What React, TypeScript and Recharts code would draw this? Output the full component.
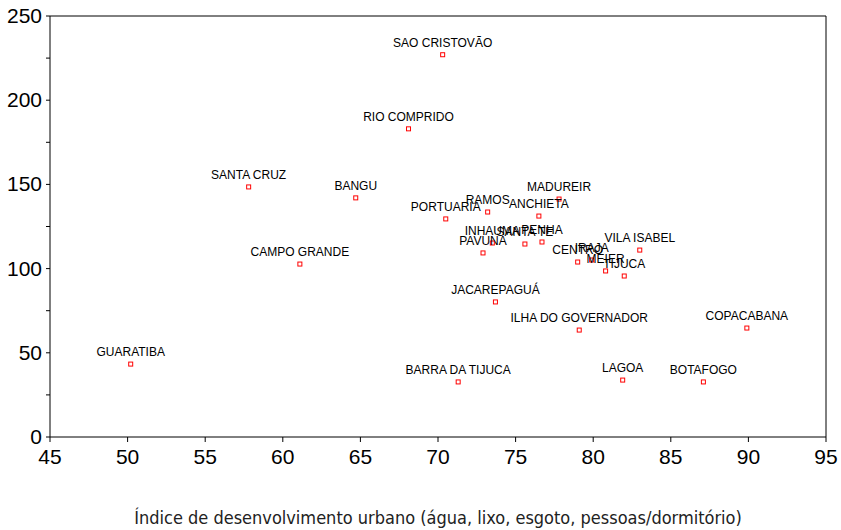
import { ScatterChart, Scatter, XAxis, YAxis, ReferenceLine } from "recharts";

const bairros = [
  "SAO CRISTOVÃO", "RIO COMPRIDO", "SANTA CRUZ", "BANGU", "PORTUARIA", "RAMOS",
  "MADUREIR", "ANCHIETA", "INHAUMA", "PAVUNA", "SANTA TE", "PENHA", "CENTRO",
  "IRAJA", "MEIER", "TIJUCA", "VILA ISABEL", "CAMPO GRANDE", "JACAREPAGUÁ",
  "ILHA DO GOVERNADOR", "COPACABANA", "GUARATIBA", "BARRA DA TIJUCA", "LAGOA",
  "BOTAFOGO",
];
const indice = [
  70.3, 68.1, 57.8, 64.7, 70.5, 73.2, 77.8, 76.5, 73.5, 72.9, 75.6, 76.7, 79.0,
  79.9, 80.8, 82.0, 83.0, 61.1, 73.7, 79.1, 89.9, 50.2, 71.3, 81.9, 87.1,
];
const valores = [
  227, 183, 148.5, 142, 129.5, 133.6, 141.3, 131.2, 115.2, 109.3, 114.6, 115.8,
  103.9, 105.1, 98.6, 95.6, 111, 102.7, 80.2, 63.5, 64.7, 43.3, 32.7, 33.8, 32.7,
];
const xTicks = [45, 50, 55, 60, 65, 70, 75, 80, 85, 90, 95];
const yTicks = [0, 25, 50, 75, 100, 125, 150, 175, 200, 225, 250];

const data = bairros.map((name, i) => ({ name, x: indice[i], y: valores[i] }));

const Ponto = (props: any) => {
  const { cx, cy, payload } = props;
  return (
    <g>
      <rect x={cx - 2} y={cy - 2} width={4} height={4} fill="none" stroke="#ff0000" strokeWidth={1} />
      <text x={cx} y={cy - 8} textAnchor="middle" fontSize={12} fontFamily="Liberation Sans, Arial" fill="#000">
        {payload.name}
      </text>
    </g>
  );
};

const YTick = (props: any) => {
  const { x, y, payload } = props;
  if (payload.value % 50 !== 0) return null;
  return (
    <text x={x} y={y} dy={7} textAnchor="end" fontSize={21} fontFamily="Liberation Sans, Arial" fill="#000">
      {payload.value}
    </text>
  );
};

const XTick = (props: any) => {
  const { x, y, payload } = props;
  return (
    <text x={x} y={y} dy={18} textAnchor="middle" fontSize={21} fontFamily="Liberation Sans, Arial" fill="#000">
      {payload.value}
    </text>
  );
};

export default function App() {
  return (
    <div style={{ position: "absolute", left: 0, top: 0, background: "#fff" }}>
      <ScatterChart width={841} height={530} margin={{ top: 16, right: 15, bottom: 0, left: 0 }}>
        <XAxis
          type="number"
          dataKey="x"
          domain={[45, 95]}
          ticks={xTicks}
          interval={0}
          tick={<XTick />}
          tickSize={5}
          tickMargin={4}
          height={93}
          stroke="#000"
          label={{
            value: "Índice de desenvolvimento urbano (água, lixo, esgoto, pessoas/dormitório)",
            position: "insideBottom",
            offset: 6,
            fontSize: 18,
            fontFamily: "DejaVu Sans Condensed, DejaVu Sans",
            fill: "#222",
          }}
        />
        <YAxis
          type="number"
          dataKey="y"
          domain={[0, 250]}
          ticks={yTicks}
          interval={0}
          tick={<YTick />}
          tickSize={4}
          tickMargin={4}
          width={50}
          stroke="#000"
        />
        <ReferenceLine y={250} stroke="#000" />
        <ReferenceLine x={95} stroke="#000" />
        <Scatter data={data} shape={<Ponto />} isAnimationActive={false} />
      </ScatterChart>
    </div>
  );
}
